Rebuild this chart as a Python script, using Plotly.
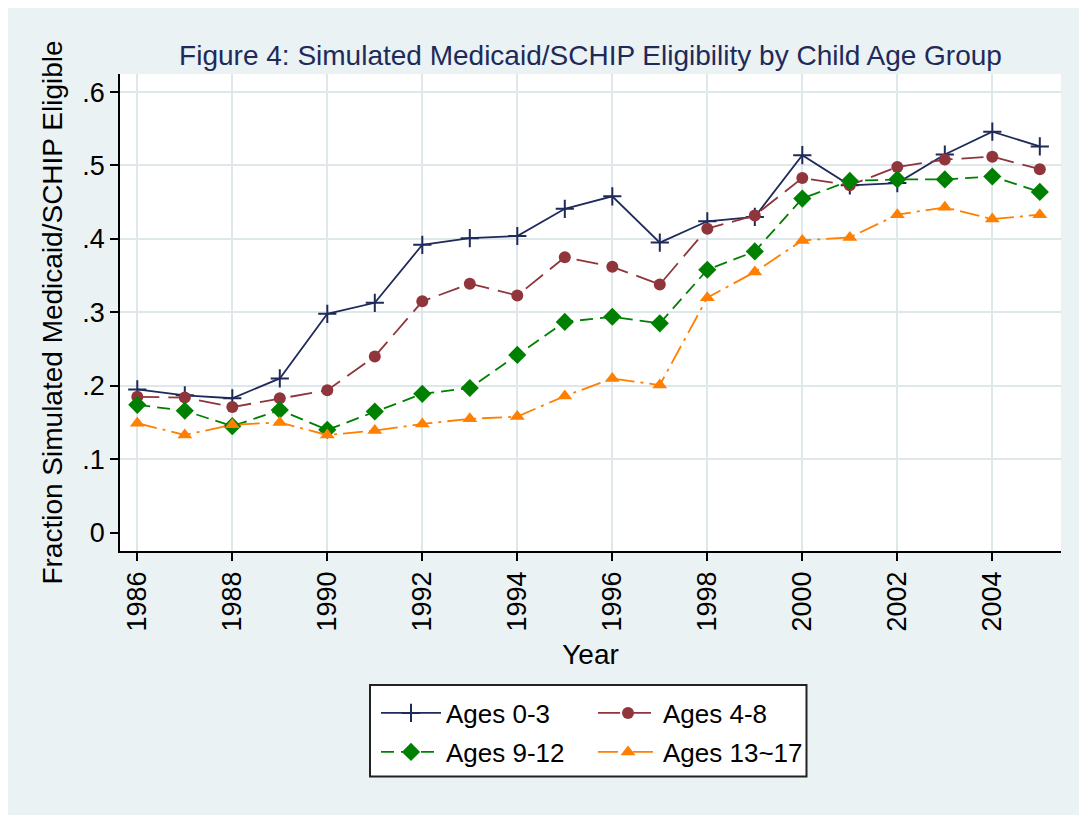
import plotly.graph_objects as go

years = list(range(1986, 2006))
ages_0_3 = [0.195, 0.187, 0.183, 0.210, 0.298, 0.313, 0.392, 0.401, 0.404, 0.441,
            0.458, 0.395, 0.424, 0.430, 0.514, 0.473, 0.476, 0.515, 0.546, 0.526]
ages_4_8 = [0.185, 0.184, 0.171, 0.183, 0.194, 0.240, 0.315, 0.339, 0.323, 0.375,
            0.362, 0.338, 0.414, 0.432, 0.483, 0.473, 0.498, 0.508, 0.512, 0.495]
ages_9_12 = [0.174, 0.166, 0.145, 0.167, 0.140, 0.165, 0.189, 0.197, 0.242, 0.287,
             0.294, 0.285, 0.358, 0.383, 0.455, 0.479, 0.481, 0.481, 0.485, 0.464]
ages_13_17 = [0.149, 0.133, 0.147, 0.150, 0.133, 0.139, 0.148, 0.155, 0.158, 0.186,
              0.210, 0.201, 0.320, 0.355, 0.398, 0.402, 0.433, 0.443, 0.427, 0.433]

series_names = ["Ages 0-3", "Ages 4-8", "Ages 9-12", "Ages 13~17"]
y_tickvals = [0, 0.1, 0.2, 0.3, 0.4, 0.5, 0.6]
y_ticktext = ["0", ".1", ".2", ".3", ".4", ".5", ".6"]
x_tickvals = list(range(1986, 2005, 2))

BG = "#EAF2F3"
GRID = "#DEE7EA"
FONT = "Liberation Sans, Arial, sans-serif"

styles = [
    dict(color="#1E2A5A", dash="solid", symbol="cross-thin", size=13, lw=2),
    dict(color="#90353B", dash="22px,9px", symbol="circle", size=12, lw=0),
    dict(color="#008000", dash="13px,7px", symbol="diamond", size=14, lw=0),
    dict(color="#FF7F00", dash="20px,6px,3px,6px", symbol="triangle-up", size=13, lw=0),
]
data = [ages_0_3, ages_4_8, ages_9_12, ages_13_17]
legends = ["legend", "legend2", "legend3", "legend4"]

fig = go.Figure()
for name, vals, st, lg in zip(series_names, data, styles, legends):
    fig.add_trace(go.Scatter(
        x=years, y=vals, name=name, mode="lines+markers",
        line=dict(color=st["color"], width=1.8, dash=st["dash"]),
        marker=dict(symbol=st["symbol"], size=st["size"], color=st["color"],
                    line=dict(color=st["color"], width=st["lw"])),
        legend=lg,
    ))

# the page has an 8px body margin; targets below are given in screen pixels
OFF = 8
W, H = 1075, 815
L, R, T, B = 120 - OFF, 1061 - OFF, 74 - OFF, 551 - OFF
pw, ph = R - L, B - T

def px(xs):
    return (xs - OFF - L) / pw

def py(ys):
    return (B - (ys - OFF)) / ph

leg_common = dict(bgcolor="rgba(0,0,0,0)", borderwidth=0,
                  font=dict(family=FONT, size=26, color="black"),
                  xanchor="left", yanchor="middle", itemwidth=60)
row1, row2 = 713, 752
col1, col2 = 376, 593

fig.update_layout(
    width=W, height=H,
    margin=dict(l=L, r=W - R, t=T, b=H - B, autoexpand=False),
    paper_bgcolor=BG,
    plot_bgcolor="white",
    font=dict(family=FONT, color="black"),
    title=dict(text="Figure 4: Simulated Medicaid/SCHIP Eligibility by Child Age Group",
               x=0.5, xref="paper", xanchor="center",
               y=1 - (55 - OFF) / H, yref="container", yanchor="middle",
               font=dict(family=FONT, size=28, color="#1E2A5A")),
    xaxis=dict(range=[1985.636, 2005.446], tickvals=x_tickvals, tickangle=-90,
               showgrid=True, gridcolor=GRID, gridwidth=1.5,
               showline=True, linecolor="black", linewidth=1.5,
               ticks="outside", ticklen=8, tickcolor="black", tickwidth=1.5,
               tickfont=dict(family=FONT, size=27, color="black"),
               title=dict(text="Year", standoff=14,
                          font=dict(family=FONT, size=28, color="black")),
               zeroline=False),
    yaxis=dict(range=[-0.025, 0.6246], tickvals=y_tickvals, ticktext=y_ticktext,
               showgrid=False,
               showline=True, linecolor="black", linewidth=1.5,
               ticks="outside", ticklen=8, tickcolor="black", tickwidth=1.5,
               tickfont=dict(family=FONT, size=27, color="black"),
               title=dict(text="Fraction Simulated Medicaid/SCHIP Eligible", standoff=12,
                          font=dict(family=FONT, size=28, color="black")),
               zeroline=False),
    yaxis2=dict(range=[-0.025, 0.6246], overlaying="y", tickvals=y_tickvals[1:],
                showgrid=True, gridcolor=GRID, gridwidth=1.5,
                showticklabels=False, ticks="", showline=False, zeroline=False),
    legend=dict(x=px(col1), y=py(row1), **leg_common),
    legend2=dict(x=px(col2), y=py(row1), **leg_common),
    legend3=dict(x=px(col1), y=py(row2), **leg_common),
    legend4=dict(x=px(col2), y=py(row2), **leg_common),
    shapes=[
        dict(type="rect", xref="paper", yref="paper", layer="below",
             x0=px(370), x1=px(806.5), y0=py(776.5), y1=py(685),
             fillcolor="white", line=dict(color="#222222", width=2)),
    ],
    showlegend=True,
)
# invisible helper trace so the grid-only axis is drawn
fig.add_trace(go.Scatter(x=[years[0]], y=[ages_0_3[0]], yaxis="y2", mode="markers",
                         marker=dict(opacity=0), showlegend=False, hoverinfo="skip"))

fig.write_html("out.html")
